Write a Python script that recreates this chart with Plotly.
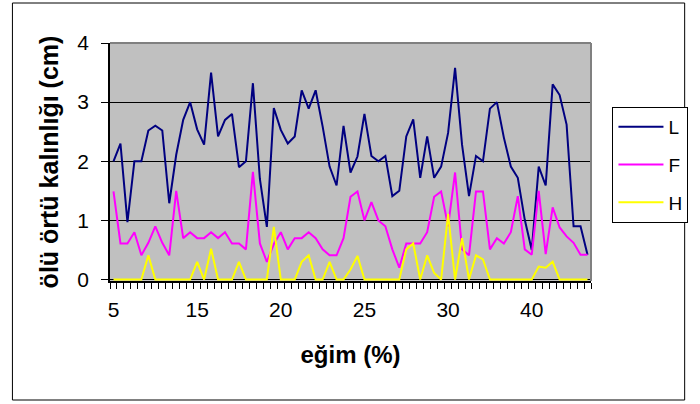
import plotly.graph_objects as go

# Litter layer thickness (cm) per sample, ordered by slope
L = [2.0, 2.3, 0.97, 2.0, 2.0, 2.52, 2.6, 2.52, 1.29, 2.11,
     2.7, 3.0, 2.54, 2.28, 3.5, 2.42, 2.7, 2.8, 1.9, 2.0,
     3.32, 1.7, 0.89, 2.9, 2.53, 2.3, 2.42, 3.2, 2.89, 3.2,
     2.59, 1.91, 1.59, 2.6, 1.81, 2.08, 2.8, 2.09, 2.0, 2.09,
     1.41, 1.5, 2.42, 2.71, 1.72, 2.42, 1.72, 1.91, 2.48, 3.58,
     2.28, 1.41, 2.09, 2.0, 2.89, 3.0, 2.4, 1.91, 1.72, 1.01,
     0.5, 1.91, 1.59, 3.3, 3.12, 2.62, 0.9, 0.9, 0.42]
F = [1.49, 0.61, 0.61, 0.8, 0.41, 0.62, 0.9, 0.62, 0.41, 1.5,
     0.7, 0.8, 0.7, 0.7, 0.8, 0.7, 0.8, 0.61, 0.61, 0.51,
     1.82, 0.61, 0.3, 0.6, 0.8, 0.51, 0.7, 0.7, 0.8, 0.7,
     0.51, 0.41, 0.41, 0.7, 1.4, 1.49, 1.0, 1.31, 1.0, 0.9,
     0.51, 0.2, 0.61, 0.61, 0.61, 0.8, 1.4, 1.49, 0.9, 1.81,
     0.51, 0.41, 1.49, 1.49, 0.51, 0.7, 0.61, 0.8, 1.41, 0.51,
     0.42, 1.5, 0.43, 1.22, 0.88, 0.73, 0.62, 0.42, 0.42]
H = [0, 0, 0, 0, 0, 0.41, 0, 0, 0, 0,
     0, 0, 0.3, 0, 0.52, 0, 0, 0, 0.3, 0,
     0, 0, 0, 0.89, 0, 0, 0, 0.3, 0.41, 0,
     0, 0.3, 0, 0, 0.17, 0.4, 0, 0, 0, 0,
     0, 0, 0.51, 0.61, 0, 0.41, 0.11, 0, 1.11, 0,
     0.7, 0, 0.41, 0.34, 0, 0, 0, 0, 0, 0,
     0, 0.22, 0.2, 0.3, 0, 0, 0, 0, 0]

# Slope category labels, shown on every 12th sample
egim_labels = ["5", "15", "20", "25", "30", "40"]
label_step = 12

series_names = ["L", "F", "H"]
series_colors = ["#000080", "#FF00FF", "#FFFF00"]

n = len(L)
idx = list(range(n))

fig = go.Figure()
for name, vals, color in zip(series_names, [L, F, H], series_colors):
    fig.add_trace(go.Scatter(
        x=idx, y=vals, mode="lines", name=name, legendgroup=name,
        line=dict(color=color, width=2),
    ))

font_family = "Arial, Liberation Sans, sans-serif"

fig.update_layout(
    width=700, height=404,
    margin=dict(l=110, r=97, t=43, b=123),
    paper_bgcolor="white",
    plot_bgcolor="#C0C0C0",
    font=dict(family=font_family, color="black"),
    showlegend=True,
    legend=dict(
        x=(625 - 110) / 493, y=(281 - 107) / 238,
        xanchor="left", yanchor="top",
        bordercolor="black", borderwidth=1, bgcolor="white",
        font=dict(size=19, family=font_family),
        tracegroupgap=10,
        itemwidth=45,
    ),
    xaxis=dict(
        range=[-0.5, n - 0.5],
        tickmode="array",
        tickvals=idx[::label_step][:len(egim_labels)],
        ticktext=egim_labels,
        ticks="",
        tickfont=dict(size=21),
        ticklabelstandoff=9,
        showgrid=False, zeroline=False,
        showline=True, linecolor="black", linewidth=1.5,
        layer="below traces",
        minor=dict(tickmode="linear", tick0=-0.5, dtick=1, ticks="outside",
                   ticklen=6, tickwidth=1, tickcolor="black", showgrid=False),
        title=dict(text="eğim (%)", font=dict(size=24, weight="bold"), standoff=26),
    ),
    yaxis=dict(
        range=[-0.025, 4], dtick=1, tick0=0,
        ticks="outside", ticklen=7, tickcolor="black",
        tickfont=dict(size=21),
        ticklabelstandoff=8,
        showgrid=True, gridcolor="black", gridwidth=1,
        zeroline=False,
        showline=True, linecolor="black", linewidth=1.5,
        layer="below traces",
        title=dict(text="ölü örtü kalınlığı (cm)", font=dict(size=25, weight="bold"), standoff=12),
    ),
    shapes=[
        # plot-area frame on the top and right sides
        dict(type="line", xref="paper", yref="paper", x0=0, x1=1, y0=1, y1=1,
             line=dict(color="#808080", width=2), layer="above"),
        dict(type="line", xref="paper", yref="paper", x0=1, x1=1, y0=0, y1=1,
             line=dict(color="#808080", width=2), layer="above"),
        # chart-area border
        dict(type="rect", xref="paper", yref="paper",
             x0=(10 - 110) / 493, x1=(699 - 110) / 493,
             y0=(281 - 400) / 238, y1=(281 - 3) / 238,
             line=dict(color="black", width=1), fillcolor="rgba(0,0,0,0)"),
    ],
)

fig.write_html("out.html")
